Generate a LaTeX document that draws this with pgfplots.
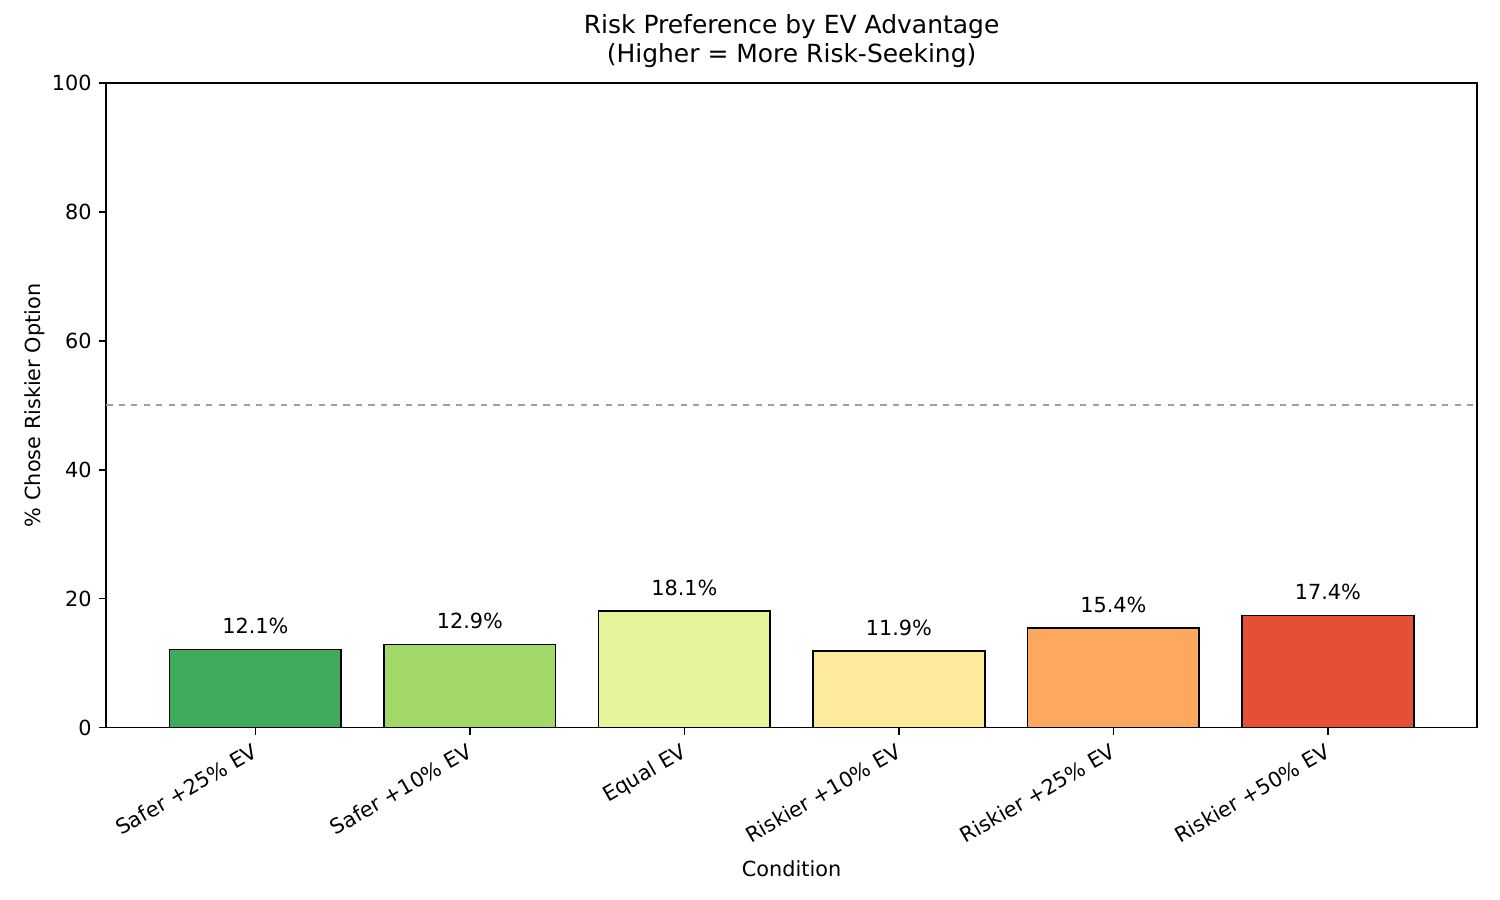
\documentclass[border=0pt]{standalone}
\usepackage{fontspec}
\setmainfont{DejaVu Sans}
\usepackage{pgfplots}
\pgfplotsset{compat=1.18}
\definecolor{c1}{HTML}{3FAA59}
\definecolor{c2}{HTML}{A2D76A}
\definecolor{c3}{HTML}{E5F49B}
\definecolor{c4}{HTML}{FEEA9B}
\definecolor{c5}{HTML}{FCA85F}
\definecolor{c6}{HTML}{E54F35}
\begin{document}
\begin{tikzpicture}
\begin{axis}[
  scale only axis,
  width=658.7pt, height=309.6pt,
  xmin=-0.695, xmax=5.695,
  ymin=0, ymax=100,
  ytick={0,20,40,60,80,100},
  xtick={0,1,2,3,4,5},
  xticklabels={Safer +25\% EV, Safer +10\% EV, Equal EV, Riskier +10\% EV, Riskier +25\% EV, Riskier +50\% EV},
  xticklabel style={rotate=30, anchor=north east, font=\fontsize{10}{12}\selectfont, inner sep=1pt, xshift=-2.5pt, yshift=-1pt},
  yticklabel style={font=\fontsize{10}{12}\selectfont},
  /pgf/number format/assume math mode=true,
  tick align=outside,
  major tick length=3.5pt,
  tick style={black, line width=0.8pt},
  xtick pos=bottom, ytick pos=left,
  axis line style={line width=0.8pt},
  xlabel={Condition},
  ylabel={\% Chose Riskier Option},
  xlabel style={font=\fontsize{10}{12}\selectfont, yshift=-3.4pt},
  ylabel style={font=\fontsize{10}{12}\selectfont, yshift=-3.4pt},
  title={Risk Preference by EV Advantage\\(Higher = More Risk-Seeking)},
  title style={font=\fontsize{12}{14}\selectfont, align=center, yshift=-2pt},
  clip=false,
]
\addplot[ybar, bar width=0.8, fill=c1, draw=black, line width=0.8pt, bar shift=0pt] coordinates {(0,12.1)};
\addplot[ybar, bar width=0.8, fill=c2, draw=black, line width=0.8pt, bar shift=0pt] coordinates {(1,12.9)};
\addplot[ybar, bar width=0.8, fill=c3, draw=black, line width=0.8pt, bar shift=0pt] coordinates {(2,18.1)};
\addplot[ybar, bar width=0.8, fill=c4, draw=black, line width=0.8pt, bar shift=0pt] coordinates {(3,11.9)};
\addplot[ybar, bar width=0.8, fill=c5, draw=black, line width=0.8pt, bar shift=0pt] coordinates {(4,15.4)};
\addplot[ybar, bar width=0.8, fill=c6, draw=black, line width=0.8pt, bar shift=0pt] coordinates {(5,17.4)};
\addplot[only marks, mark=none, nodes near coords={\pgfmathprintnumber[fixed,precision=1,fixed zerofill]{\pgfplotspointmeta}\%},
  point meta=explicit, nodes near coords style={anchor=south, font=\fontsize{10}{12}\selectfont, inner sep=1pt}]
  coordinates {(0,14.1) [12.1] (1,14.9) [12.9] (2,20.1) [18.1] (3,13.9) [11.9] (4,17.4) [15.4] (5,19.4) [17.4]};
\addplot[gray!75, dashed, line width=0.8pt] coordinates {(-0.695,50) (5.695,50)};
\end{axis}
\useasboundingbox ([xshift=-51.07pt, yshift=-82.87pt]current axis.south west) rectangle ([xshift=11.08pt, yshift=39.99pt]current axis.north east);
\end{tikzpicture}
\end{document}
